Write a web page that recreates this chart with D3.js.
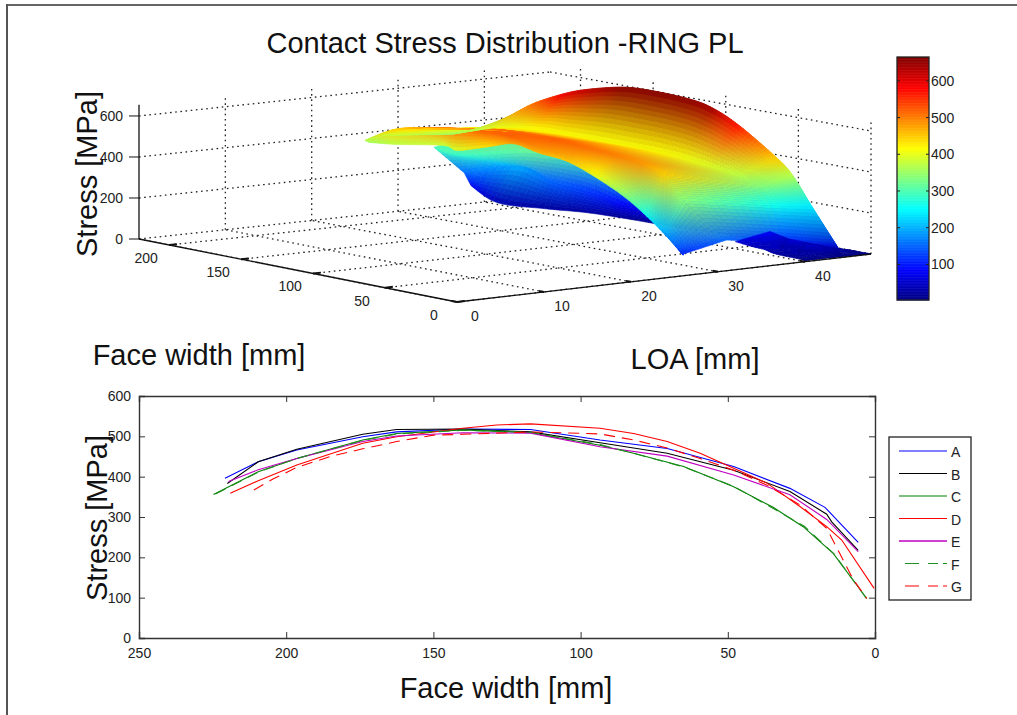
<!DOCTYPE html>
<html>
<head>
<meta charset="utf-8">
<script src="https://d3js.org/d3.v7.min.js"></script>
<style>
  html, body { margin: 0; padding: 0; background: #fff; }
  svg { display: block; font-family: "Liberation Sans", Arial, sans-serif; }
</style>
</head>
<body>
<svg width="1017" height="715"></svg>
<script>
// ---- surface data: stations along the face width [mm] ----
var faceStations = [220, 200, 180, 160, 140, 120, 100, 80, 60, 40, 25, 12, 0];

// each sheet line: LOA position [mm] and stress [MPa] at every station
var humpFace = [215, 197, 170, 158.5, 137, 118, 94, 75.5, 62.4, 34.6, 27, 12, 0];
var humpLoa = [40, 41, 40.3, 41.5, 42.2, 42.8, 42.6, 42, 42.8, 42.5, 43.1, 42.8, 43.8];
var humpStress = [370, 495, 590, 625, 660, 660, 655, 640, 570, 450, 370, 240, 50];
var midLoa = [36, 38, 39, 39, 39, 39, 39, 39, 39, 39, 39, 39, 38];
var midStress = [350, 400, 415, 415, 415, 415, 415, 410, 395, 375, 340, 260, 100];
var bandLoa = [28, 28, 28, 28, 28, 28, 28, 28, 28, 28, 28, 28, 31];
var bandStress = [380, 433, 466, 494, 516, 520, 523, 512, 501, 485, 447, 340, 150];
var ridgeLoa = [26, 26, 26, 26, 26, 26, 26, 26, 26, 26, 26, 26, 26];
var ridgeStress = [365, 445, 480, 503, 516, 520, 494, 473, 423, 353, 277, 197, 106];
var lipLoa = [26.5, 26.1, 28.4, 26.7, 27, 26.5, 26, 26, 26, 26, 26, 26, 26];
var lipStress = [353, 372, 383, 393, 437, 480, 465, 450, 398, 328, 255, 180, 100];
var dropALoa = [34, 33.5, 38, 42, 42.5, 43, 43.5, 44, 44, 44, 44, 44, 44];
var dropAStress = [295, 290, 320, 290, 220, 150, 100, 100, 100, 100, 100, 120, 20];
var dropBLoa = [37.5, 40.5, 41, 42, 42.5, 43, 43.5, 44, 44, 44, 44, 44, 44];
var dropBStress = [155, 200, 150, 120, 80, 50, 40, 40, 40, 40, 40, 60, 10];
var dropCLoa = [38.3, 38, 40, 41.5, 42.5, 43, 43.5, 44, 44, 44, 44, 44, 44];
var dropCStress = [88, 33, 22, 22, 16, 12, 10, 10, 10, 10, 10, 10, 5];

// low stress patch at the end of the face
var patchStations = [36, 28, 22, 16, 10, 4, 0];
var patchFrontLoa = [38, 38.5, 39, 39, 39.5, 40, 40];
var patchFrontStress = [60, 45, 35, 25, 15, 8, 5];
var patchMidLoa = [42, 42, 42, 42, 42, 42, 42];
var patchMidStress = [90, 20, 70, 15, 60, 15, 5];
var patchBackLoa = [45, 45.5, 46, 46.5, 47, 47.3, 47.6];
var patchBackStress = [25, 20, 15, 10, 8, 4, 1];

// ---- curves of the lower plot ----
var faceA = [220.8, 209.5, 196.4, 174, 162.5, 140, 117, 93.4, 70.6, 48, 28.9, 17, 5.7];
var stressA = [396, 437, 466, 499, 511, 518, 517, 491, 470, 425, 371, 324, 237];
var faceB = [220, 209.5, 196.4, 174, 162.5, 140, 117, 93.4, 70.6, 48, 28.9, 16.4, 14.7, 5.7];
var stressB = [383, 437, 468, 505, 517, 518, 511, 484, 458, 416, 363, 307, 288, 217];
var faceC = [224.7, 209.5, 196.4, 174, 162.5, 140, 117, 93.4, 82, 65, 48, 34.6, 24.4, 14.2, 2.8];
var stressC = [356, 412, 445, 491, 507, 516, 509, 478, 458, 425, 375, 324, 276, 210, 98];
var faceD = [219, 209.5, 196.4, 174, 162.5, 140, 128.5, 117, 93.4, 82, 70.6, 59.4, 48, 36.7, 25.5, 16.4, 11.3, 0.3];
var stressD = [359, 390, 429, 483, 499, 520, 528, 531, 520, 507, 487, 458, 421, 384, 326, 276, 243, 123];
var faceE = [219.6, 209.5, 196.4, 174, 162.5, 140, 117, 93.4, 70.6, 48, 28.9, 16.4, 5.7];
var stressE = [388, 417, 445, 487, 501, 509, 508, 474, 451, 404, 355, 294, 214];
var faceF = [224, 209, 196, 174, 162, 140, 117, 93, 82, 65, 48, 35, 24, 14, 3];
var stressF = [357, 413, 446, 490, 506, 515, 510, 479, 458, 424, 376, 323, 277, 209, 99];
var faceG = [211, 204.5, 196.4, 185, 174, 162.5, 150, 140, 117, 93.4, 82, 70.6, 59.4, 48, 36.7, 25.5, 16.4, 12, 7.3, 2.8];
var stressG = [367, 394, 423, 450, 469, 487, 503, 505, 511, 506, 491, 471, 445, 416, 379, 330, 272, 210, 144, 98];

var seriesNames = ["A", "B", "C", "D", "E", "F", "G"];
var seriesFace = [faceA, faceB, faceC, faceD, faceE, faceF, faceG];
var seriesStress = [stressA, stressB, stressC, stressD, stressE, stressF, stressG];
var seriesColors = ["#0000ff", "#000000", "#008000", "#ff0000", "#bf00bf", "#1f8f1f", "#ff0000"];
var seriesDash = [null, null, null, null, null, "14,9,10,5,4", "14,9,10,5,4"];

var loaTicks = [0, 10, 20, 30, 40];
var faceTicks = [0, 50, 100, 150, 200];
var stressTicks = [0, 200, 400, 600];
var barTicks = [100, 200, 300, 400, 500, 600];
var plotFaceTicks = [250, 200, 150, 100, 50, 0];
var plotStressTicks = [0, 100, 200, 300, 400, 500, 600];

function main() {
  var svg = d3.select("svg");
  var ink = "#222";

  // figure edge, top and left
  svg.append("line").attr("x1", 6).attr("x2", 1017).attr("y1", 5).attr("y2", 5)
    .attr("stroke", "#666").attr("stroke-width", 2);
  svg.append("line").attr("x1", 7).attr("x2", 7).attr("y1", 4).attr("y2", 715)
    .attr("stroke", "#555").attr("stroke-width", 2);

  // jet colormap
  var jet = d3.scaleLinear()
    .domain([0, 0.125, 0.375, 0.625, 0.875, 1].map(function(t) { return 3 + t * 662; }))
    .range(["#000080", "#0000ff", "#00ffff", "#ffff00", "#ff0000", "#800000"])
    .clamp(true);

  // 3D view: floor corners in pixels, bilinear between them
  var loaMax = 47.6, faceMax = 221, stressMax = 655;
  var u = d3.scaleLinear().domain([0, loaMax]).range([0, 1]);
  var v = d3.scaleLinear().domain([0, faceMax]).range([0, 1]);
  var h = d3.scaleLinear().domain([0, stressMax]).range([0, 134.3]);
  var o = [457, 302], cx = [871, 254], cy = [139, 239], cb = [550, 195];

  function project(x, y, z) {
    var a = u(x), b = v(y);
    return [
      o[0] + a * (cx[0] - o[0]) + b * (cy[0] - o[0]) + a * b * (o[0] + cb[0] - cx[0] - cy[0]),
      o[1] + a * (cx[1] - o[1]) + b * (cy[1] - o[1]) + a * b * (o[1] + cb[1] - cx[1] - cy[1]) - h(z)
    ];
  }

  var g3 = svg.append("g");

  function line3(p, q, dotted, width) {
    var a = project(p[0], p[1], p[2]), b = project(q[0], q[1], q[2]);
    var l = g3.append("line")
      .attr("x1", a[0]).attr("y1", a[1]).attr("x2", b[0]).attr("y2", b[1])
      .attr("stroke", dotted ? "#222" : "#111")
      .attr("stroke-width", width || 1.3);
    if (dotted) l.attr("stroke-dasharray", "1.6,3.6");
  }

  // dotted box grid
  loaTicks.forEach(function(t) {
    line3([t, 0, 0], [t, faceMax, 0], true);
    if (t > 0) line3([t, faceMax, 0], [t, faceMax, stressMax], true);
  });
  line3([loaMax, 0, 0], [loaMax, faceMax, 0], true);
  faceTicks.forEach(function(t) {
    line3([0, t, 0], [loaMax, t, 0], true);
    line3([loaMax, t, 0], [loaMax, t, stressMax], true);
  });
  line3([0, faceMax, 0], [loaMax, faceMax, 0], true);
  stressTicks.slice(1).forEach(function(t) {
    line3([0, faceMax, t], [loaMax, faceMax, t], true);
    line3([loaMax, faceMax, t], [loaMax, 0, t], true);
  });

  // smooth run along the stations, only for the shape of the sheet
  function catmull(arr, i, t) {
    var p0 = arr[Math.max(i - 1, 0)], p1 = arr[i], p2 = arr[i + 1], p3 = arr[Math.min(i + 2, arr.length - 1)];
    return 0.5 * (2 * p1 + (p2 - p0) * t + (2 * p0 - 5 * p1 + 4 * p2 - p3) * t * t + (3 * p1 - p0 - 3 * p2 + p3) * t * t * t);
  }

  // surface: sheets drawn back to front, vertex colours blended in RGB
  function drawSheet(stations, lines, n) {
    var cells = [];
    function lerp(p, q, t) { return p + (q - p) * t; }
    function at(i, j, a, s) {
      var t = a / n, w = s / n, lo = lines[j], hi = lines[j + 1];
      var ca = d3.rgb(jet(lo[1][i])), cb2 = d3.rgb(jet(lo[1][i + 1])), cc = d3.rgb(jet(hi[1][i])), cd = d3.rgb(jet(hi[1][i + 1]));
      return {
        x: lerp(catmull(lo[0], i, t), catmull(hi[0], i, t), w),
        y: lerp(catmull(lo[2] || stations, i, t), catmull(hi[2] || stations, i, t), w),
        z: Math.max(0, lerp(catmull(lo[1], i, t), catmull(hi[1], i, t), w)),
        r: lerp(lerp(ca.r, cb2.r, t), lerp(cc.r, cd.r, t), w),
        g: lerp(lerp(ca.g, cb2.g, t), lerp(cc.g, cd.g, t), w),
        b: lerp(lerp(ca.b, cb2.b, t), lerp(cc.b, cd.b, t), w)
      };
    }
    for (var j = 0; j < lines.length - 1; j++) {
      for (var i = 0; i < stations.length - 1; i++) {
        for (var a = 0; a < n; a++) {
          for (var b = 0; b < n; b++) {
            var c = [at(i, j, a, b), at(i, j, a + 1, b), at(i, j, a + 1, b + 1), at(i, j, a, b + 1)];
            cells.push({
              d: "M" + c.map(function(k) { return project(k.x, k.y, k.z).join(","); }).join("L") + "Z",
              fill: d3.rgb(d3.mean(c, function(k) { return k.r; }), d3.mean(c, function(k) { return k.g; }), d3.mean(c, function(k) { return k.b; })).formatHex()
            });
          }
        }
      }
    }
    g3.append("g").selectAll("path").data(cells).join("path")
      .attr("d", function(d) { return d.d; })
      .attr("fill", function(d) { return d.fill; })
      .attr("stroke", function(d) { return d.fill; })
      .attr("stroke-width", 0.6);
  }

  var humpLine = [humpLoa, humpStress, humpFace];
  drawSheet(faceStations, [humpLine, [dropALoa, dropAStress], [dropBLoa, dropBStress], [dropCLoa, dropCStress]], 8);
  drawSheet(faceStations, [[lipLoa, lipStress], [ridgeLoa, ridgeStress]], 6);
  drawSheet(faceStations, [[ridgeLoa, ridgeStress], [bandLoa, bandStress], [midLoa, midStress], humpLine], 12);
  drawSheet(patchStations, [[patchFrontLoa, patchFrontStress], [patchMidLoa, patchMidStress], [patchBackLoa, patchBackStress]], 4);

  // solid front axes
  line3([0, faceMax, 0], [0, 0, 0], false, 1.3);
  line3([0, 0, 0], [loaMax, 0, 0], false, 1.3);
  line3([0, faceMax, 0], [0, faceMax, stressMax], false, 1.3);

  faceTicks.forEach(function(t) {
    line3([0, t, 0], [0.9, t, 0], false, 2);
    var p = project(0, t, 0);
    g3.append("text").attr("x", p[0] - 23).attr("y", p[1] + 18).attr("text-anchor", "middle")
      .attr("font-size", 14).attr("fill", ink).text(t);
  });
  loaTicks.forEach(function(t) {
    line3([t, 0, 0], [t, 3.5, 0], false, 2);
    var p = project(t, 0, 0);
    g3.append("text").attr("x", p[0] + 18).attr("y", p[1] + 19).attr("text-anchor", "middle")
      .attr("font-size", 14).attr("fill", ink).text(t);
  });
  stressTicks.forEach(function(t) {
    var p = project(0, faceMax, t);
    g3.append("line").attr("x1", p[0] - 10).attr("x2", p[0]).attr("y1", p[1]).attr("y2", p[1])
      .attr("stroke", "#111");
    g3.append("text").attr("x", p[0] - 16).attr("y", p[1] + 5).attr("text-anchor", "end")
      .attr("font-size", 14).attr("fill", ink).text(t);
  });

  // colorbar
  var barY = d3.scaleLinear().domain([3, 665]).range([300, 57]);
  var bar = svg.append("g");
  bar.selectAll("rect").data(d3.range(3, 665, 2)).join("rect")
    .attr("x", 897).attr("width", 32)
    .attr("y", function(d) { return barY(d + 2); })
    .attr("height", function(d) { return barY(d) - barY(d + 2) + 0.5; })
    .attr("fill", function(d) { return jet(d + 1); });
  bar.append("rect").attr("x", 897).attr("y", 57).attr("width", 32).attr("height", 243)
    .attr("fill", "none").attr("stroke", "#222").attr("stroke-width", 1.3);
  barTicks.forEach(function(t) {
    bar.append("line").attr("x1", 897).attr("x2", 900).attr("y1", barY(t)).attr("y2", barY(t)).attr("stroke", "#222");
    bar.append("line").attr("x1", 926).attr("x2", 929).attr("y1", barY(t)).attr("y2", barY(t)).attr("stroke", "#222");
    bar.append("text").attr("x", 931).attr("y", barY(t) + 5).attr("font-size", 14).attr("fill", ink).text(t);
  });

  // lower plot
  var x = d3.scaleLinear().domain([250, 0]).range([139, 875]);
  var y = d3.scaleLinear().domain([0, 600]).range([638, 396]);
  var plot = svg.append("g");

  var axisFns = [
    { a: d3.axisBottom(x).tickValues(plotFaceTicks).tickSize(-6).tickPadding(10), t: "translate(0,638)" },
    { a: d3.axisTop(x).tickValues(plotFaceTicks).tickSize(-6).tickFormat(""), t: "translate(0,396)" },
    { a: d3.axisLeft(y).tickValues(plotStressTicks).tickSize(-6).tickPadding(8), t: "translate(139,0)" },
    { a: d3.axisRight(y).tickValues(plotStressTicks).tickSize(-6).tickFormat(""), t: "translate(875,0)" }
  ];
  axisFns.forEach(function(f) {
    var ga = plot.append("g").attr("transform", f.t).call(f.a);
    ga.select(".domain").attr("stroke", "#333").attr("stroke-width", 1.4);
    ga.selectAll(".tick line").attr("stroke", "#333");
    ga.selectAll("text").attr("font-size", 14).attr("font-family", "Liberation Sans").attr("fill", ink);
  });

  var path = d3.line()
    .x(function(d) { return x(d[0]); })
    .y(function(d) { return y(d[1]); });

  seriesNames.forEach(function(name, i) {
    plot.append("path")
      .datum(d3.zip(seriesFace[i], seriesStress[i]))
      .attr("d", path)
      .attr("fill", "none")
      .attr("stroke", seriesColors[i])
      .attr("stroke-width", 1.1)
      .attr("stroke-dasharray", i > 4 ? "11,7" : null);
  });

  // legend
  var legend = svg.append("g");
  legend.append("rect").attr("x", 889).attr("y", 437).attr("width", 82).attr("height", 163)
    .attr("fill", "#fff").attr("stroke", "#222").attr("stroke-width", 1.3);
  var legendY = d3.scaleLinear().domain([0, 6]).range([451, 586]);
  seriesNames.forEach(function(name, i) {
    legend.append("line").attr("x1", i > 4 ? 905 : 899).attr("x2", 947)
      .attr("y1", legendY(i)).attr("y2", legendY(i))
      .attr("stroke", seriesColors[i]).attr("stroke-width", i === 4 ? 1.5 : 1.1)
      .attr("stroke-dasharray", seriesDash[i]);
    legend.append("text").attr("x", 951).attr("y", legendY(i) + 6)
      .attr("font-size", 14).attr("fill", ink).text(name);
  });

  // titles
  function label(txt, px, py, size, rotate) {
    var t = svg.append("text").attr("font-size", size).attr("fill", "#111").attr("text-anchor", "middle").text(txt);
    if (rotate) t.attr("transform", "translate(" + px + "," + py + ") rotate(-90)");
    else t.attr("x", px).attr("y", py);
  }
  label("Contact Stress Distribution -RING PL", 505, 53, 29);
  label("Stress [MPa]", 97, 174, 29, true);
  label("Face width [mm]", 199, 365, 29);
  label("LOA [mm]", 695, 369, 29);
  label("Stress [MPa]", 107, 518, 29, true);
  label("Face width [mm]", 506, 698, 29);
}

main();
</script>
</body>
</html>
